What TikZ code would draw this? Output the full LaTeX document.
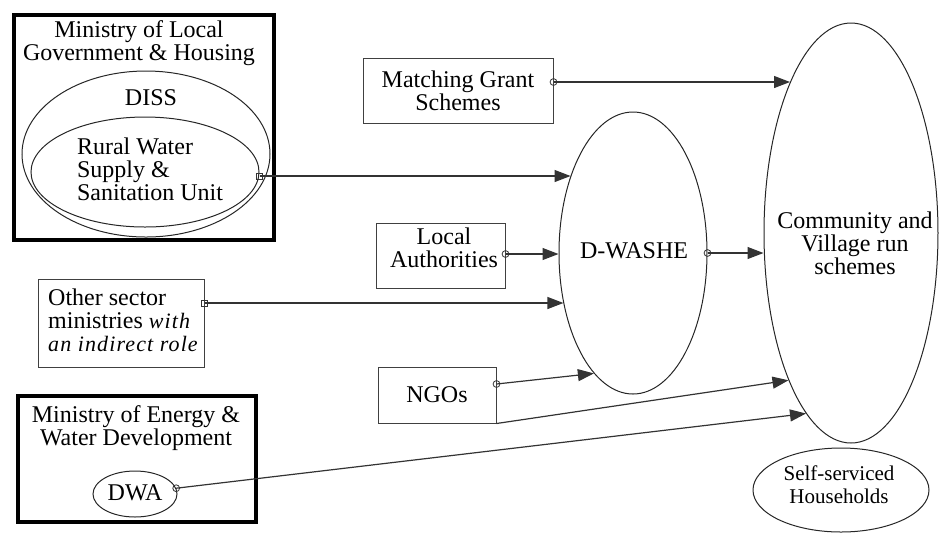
\documentclass[tikz,border=0pt]{standalone}
\usepackage{fontspec}
\setmainfont{Liberation Serif}
\newfontfamily\spacedit[LetterSpace=5]{Liberation Serif}
\newcommand\myital[1]{{\spacedit\itshape\fontsize{11pt}{11.5pt}\selectfont #1}}
\usetikzlibrary{arrows.meta,shapes.geometric}
\begin{document}
\begin{tikzpicture}[x=0.5pt,y=-0.5pt,
  every node/.style={font=\fontsize{12pt}{11.5pt}\selectfont},
  thinbox/.style={draw=black!75, line width=0.5pt, rectangle, inner sep=0pt},
  thickbox/.style={draw=black, line width=2pt, rectangle, inner sep=0pt},
  ell/.style={draw=black!85, ellipse, line width=0.5pt, inner sep=0pt},
  txt/.style={inner sep=0pt, align=center},
  conn/.style={draw=black!80, line width=0.6pt},
  arr/.style={conn, -{Triangle[length=8pt,width=6pt]}},
  dotc/.style={circle, draw=black!80, line width=0.4pt, minimum size=3.4pt, inner sep=0pt},
  dots/.style={rectangle, draw=black!80, line width=0.4pt, minimum size=3pt, inner sep=0pt}]
\useasboundingbox (0,0) rectangle (939,538);

% Ministry of Local Government & Housing
\node[thickbox, minimum width=130pt, minimum height=112.5pt] (mlgh) at (144,127.5) {};
\node[txt] (mlghT) at (139,43) {Ministry of Local\\Government \& Housing};
\node[ell, minimum width=124pt, minimum height=83pt] (diss) at (146,154) {};
\node[txt] (dissT) at (151,97.5) {DISS};
\node[ell, minimum width=114pt, minimum height=55pt] (rwss) at (145,172) {};
\node[inner sep=0pt, align=left] (rwssT) at (150,169.3) {Rural Water\\Supply \&\\Sanitation Unit};

% Matching grant
\node[thinbox, minimum width=95pt, minimum height=32.5pt, align=center] (mgs) at (458,90.5) {Matching Grant\\Schemes};

% Local authorities
\node[thinbox, minimum width=64.5pt, minimum height=32.5pt] (la) at (440.5,255.5) {};
\node[txt] (laT) at (444,248) {Local\\Authorities};

% Other sector ministries
\node[thinbox, minimum width=83pt, minimum height=44pt] (osm) at (121,323) {};
\node[inner sep=0pt, align=left] (osmT) at (123,320.5) {Other sector\\ministries \myital{with}\\\myital{an indirect role}};

% NGOs
\node[thinbox, minimum width=59pt, minimum height=28pt] (ngo) at (437,395) {NGOs};

% Ministry of Energy & Water Development
\node[thickbox, minimum width=119pt, minimum height=63pt] (mew) at (137,459) {};
\node[txt] (mewT) at (136,428.4) {Ministry of Energy \&\\Water Development};
\node[ell, minimum width=42pt, minimum height=23pt] (dwa) at (135,494) {};
\node[txt] (dwaT) at (135,492.5) {DWA};

% D-WASHE
\node[ell, minimum width=74pt, minimum height=141pt] (dw) at (633,253) {};
\node[txt] (dwT) at (634,250.5) {D-WASHE};

% Community
\node[ell, minimum width=87pt, minimum height=210pt] (comm) at (851,233) {};
\node[txt] (commT) at (855,243) {Community and\\Village run\\schemes};

% Self-serviced
\node[ell, minimum width=88pt, minimum height=42pt] (ssh) at (841,490) {};
\node[txt, font=\fontsize{10.5pt}{11.5pt}\selectfont] (sshT) at (839,485) {Self-serviced\\Households};

% connector start points
\coordinate (s1) at ([yshift=-2pt]rwss.east);
\coordinate (s2) at ([yshift=4.25pt]mgs.east);
\coordinate (s3) at ([yshift=0.75pt]la.east);
\coordinate (s4) at ([yshift=10pt]osm.east);
\coordinate (s6) at ([yshift=5.5pt]ngo.east);
\coordinate (s7) at (dwa.8);

\draw[arr] (s1) -- (s1 -| dw.129);
\draw[arr] (s2) -- (s2 -| comm.112);
\draw[arr] (s3) -- (s3 -| dw.west);
\draw[arr] (s4) -- (s4 -| dw.216);
\draw[arr] (dw.east) -- (dw.east -| comm.west);
\draw[arr] (s6) -- (dw.252);
\draw[arr] (ngo.south east) -- (comm.247);
\draw[arr] (s7) -- (comm.256);

% markers
\node[dots] at (s1) {};
\node[dotc] at (s2) {};
\node[dotc] at (s3) {};
\node[dots] at (s4) {};
\node[dotc] at (dw.east) {};
\node[dotc] at (s6) {};
\node[dotc] at (s7) {};
\end{tikzpicture}
\end{document}
